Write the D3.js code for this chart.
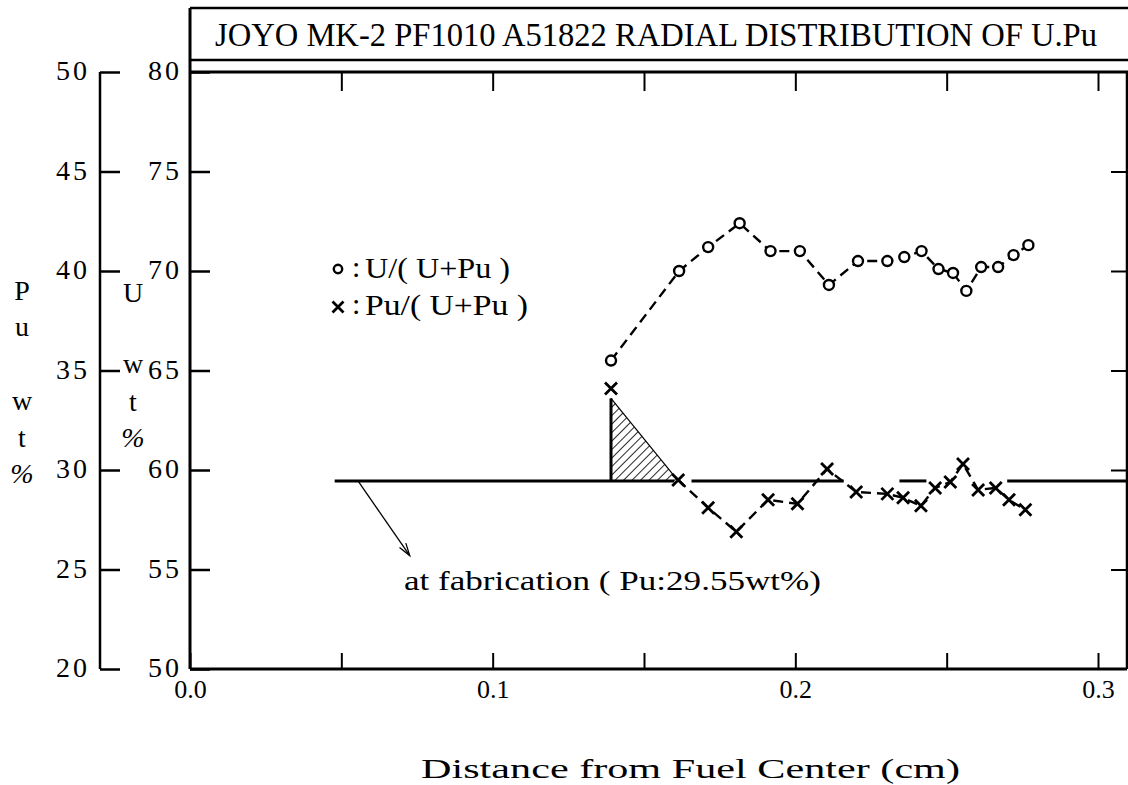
<!DOCTYPE html>
<html>
<head>
<meta charset="utf-8">
<script src="https://cdn.jsdelivr.net/npm/d3@7"></script>
<style>
  body { margin: 0; background: #fff; }
  text { font-family: "Liberation Serif", "DejaVu Serif", serif; fill: #000; }
</style>
</head>
<body>
<svg id="chart" width="1128" height="785"></svg>
<script>
// U/(U+Pu) measurements (circles)
const uDistance = [0.1391, 0.1616, 0.1712, 0.1816, 0.1918, 0.2015, 0.2111, 0.2207, 0.2304,
                   0.2360, 0.2417, 0.2473, 0.2521, 0.2565, 0.2614, 0.2670, 0.2721, 0.2770];
const uPct = [65.5, 70.0, 71.2, 72.4, 71.0, 71.0, 69.3, 70.5, 70.5,
              70.7, 71.0, 70.1, 69.9, 69.0, 70.2, 70.2, 70.8, 71.3];

// Pu/(U+Pu) measurements (crosses)
const puDistance = [0.1391, 0.1613, 0.1712, 0.1805, 0.1910, 0.2007, 0.2105, 0.2201, 0.2304,
                    0.2356, 0.2415, 0.2462, 0.2512, 0.2554, 0.2604, 0.2662, 0.2706, 0.2760];
const puPct = [34.1, 29.5, 28.1, 26.9, 28.5, 28.3, 30.05, 28.9, 28.8,
               28.6, 28.2, 29.1, 29.4, 30.3, 29.0, 29.1, 28.5, 28.0];

// fabrication level and where the drawn line is visible
const fabPu = 29.45;
const fabSegments = [[0.0478, 0.1600], [0.1657, 0.2160], [0.2344, 0.2433], [0.2700, 0.3096]];
const hatchTop = 33.6;

const uTicks = [50, 55, 60, 65, 70, 75, 80];
const puTicks = [20, 25, 30, 35, 40, 45, 50];
const xTicks = [0, 0.05, 0.1, 0.15, 0.2, 0.25, 0.3];
const xLabelTicks = [0, 0.1, 0.2, 0.3];

const title = "JOYO MK-2 PF1010 A51822 RADIAL DISTRIBUTION OF U.Pu";
const xTitle = "Distance from Fuel Center (cm)";
const fabNote = "at fabrication ( Pu:29.55wt%)";
const legendU = "U/( U+Pu )";
const legendPu = "Pu/( U+Pu )";

const svg = d3.select('#chart');

const plotLeft = 190, plotRight = 1127, plotTop = 72, plotBottom = 669;
const x = d3.scaleLinear().domain([0, 0.3]).range([plotLeft, 1098]);
const yU = d3.scaleLinear().domain([50, 80]).range([plotBottom, plotTop]);
const yPu = d3.scaleLinear().domain([20, 50]).range([plotBottom, plotTop]);

// hatch pattern
svg.append('defs').append('pattern')
    .attr('id', 'hatch')
    .attr('patternUnits', 'userSpaceOnUse')
    .attr('width', 6).attr('height', 6)
    .attr('patternTransform', 'rotate(45)')
    .append('line')
    .attr('x1', 0).attr('y1', 0).attr('x2', 0).attr('y2', 6)
    .attr('stroke', '#000').attr('stroke-width', 1.7);

// title box + plot frame
const frame = svg.append('g').attr('stroke', '#000').attr('fill', 'none');
frame.append('line').attr('x1', plotLeft).attr('x2', 1128).attr('y1', 8).attr('y2', 8).attr('stroke-width', 2.5);
frame.append('line').attr('x1', plotLeft).attr('x2', 1128).attr('y1', 60).attr('y2', 60).attr('stroke-width', 2.5);
frame.append('line').attr('x1', plotLeft).attr('x2', 1128).attr('y1', plotTop).attr('y2', plotTop).attr('stroke-width', 3);
frame.append('line').attr('x1', plotLeft).attr('x2', plotLeft).attr('y1', 8).attr('y2', plotBottom).attr('stroke-width', 3);
frame.append('line').attr('x1', plotLeft).attr('x2', plotRight).attr('y1', plotBottom).attr('y2', plotBottom).attr('stroke-width', 3);
frame.append('line').attr('x1', plotRight).attr('x2', plotRight).attr('y1', plotTop).attr('y2', plotBottom).attr('stroke-width', 2.5);

svg.append('text')
    .attr('x', 215).attr('y', 46)
    .attr('font-size', 33)
    .attr('textLength', 882).attr('lengthAdjust', 'spacingAndGlyphs')
    .text(title);

const styleAxis = (g, fontSize) => {
    g.select('.domain').remove();
    g.attr('font-family', null);
    g.selectAll('.tick line').attr('stroke', '#000').attr('stroke-width', 2.5);
    g.selectAll('.tick text').attr('font-size', fontSize).attr('fill', '#000');
};

// U axis (left of plot)
svg.append('g')
    .attr('transform', `translate(${plotLeft},0)`)
    .call(d3.axisLeft(yU).tickValues(uTicks).tickSize(-20).tickPadding(8).tickFormat(d3.format('d')))
    .call(g => styleAxis(g, 28))
    .call(g => g.selectAll('.tick text').attr('letter-spacing', 3).attr('dy', '0.28em'));

// Pu axis (far left)
svg.append('g')
    .attr('transform', 'translate(100,0)')
    .call(d3.axisLeft(yPu).tickValues(puTicks).tickSize(-20).tickPadding(10).tickFormat(d3.format('d')))
    .call(g => styleAxis(g, 28))
    .call(g => g.selectAll('.tick text').attr('letter-spacing', 3).attr('dy', '0.28em'));
svg.append('line')
    .attr('x1', 100).attr('x2', 100).attr('y1', yPu(50)).attr('y2', yPu(20))
    .attr('stroke', '#000').attr('stroke-width', 2.5);

// bottom axis
svg.append('g')
    .attr('transform', `translate(0,${plotBottom})`)
    .call(d3.axisBottom(x).tickValues(xTicks).tickSize(-16).tickPadding(11)
        .tickFormat(d => xLabelTicks.some(v => Math.abs(v - d) < 1e-9) ? d.toFixed(1) : ''))
    .call(g => styleAxis(g, 26))
    .call(g => g.selectAll('.tick line').attr('stroke-width', 2));

// top axis
svg.append('g')
    .attr('transform', `translate(0,${plotTop})`)
    .call(d3.axisTop(x).tickValues(xTicks.slice(1)).tickSize(-19).tickFormat(''))
    .call(g => styleAxis(g, 0))
    .call(g => g.selectAll('.tick line').attr('stroke-width', 2));

// right axis
svg.append('g')
    .attr('transform', `translate(${plotRight},0)`)
    .call(d3.axisRight(yU).tickValues(uTicks.slice(1, -1)).tickSize(-16).tickFormat(''))
    .call(g => styleAxis(g, 0))
    .call(g => g.selectAll('.tick line').attr('stroke-width', 2));

// axis captions
const capPu = ['P', 'u', 'w', 't', '%'];
const capPuY = [300, 336, 410, 447, 483];
svg.append('g').selectAll('text').data(capPu).join('text')
    .attr('x', 22).attr('y', (d, i) => capPuY[i])
    .attr('text-anchor', 'middle').attr('font-size', 28)
    .attr('font-style', d => d === '%' ? 'italic' : null)
    .text(d => d);
const capU = ['U', 'w', 't', '%'];
const capUY = [302, 373, 411, 447];
svg.append('g').selectAll('text').data(capU).join('text')
    .attr('x', 133).attr('y', (d, i) => capUY[i])
    .attr('text-anchor', 'middle').attr('font-size', 28)
    .attr('font-style', d => d === '%' ? 'italic' : null)
    .text(d => d);

svg.append('text')
    .attr('x', 421).attr('y', 778)
    .attr('font-size', 27)
    .attr('textLength', 539).attr('lengthAdjust', 'spacingAndGlyphs')
    .text(xTitle);

// hatched excess area
const hatchPts = [[puDistance[0], fabPu], [puDistance[0], hatchTop], [puDistance[1], fabPu]];
svg.append('path')
    .attr('d', d3.line().x(d => x(d[0])).y(d => yPu(d[1]))(hatchPts) + 'Z')
    .attr('fill', 'url(#hatch)').attr('stroke', 'none');
svg.append('line')
    .attr('x1', x(puDistance[0])).attr('x2', x(puDistance[0]))
    .attr('y1', yPu(fabPu)).attr('y2', yPu(hatchTop))
    .attr('stroke', '#000').attr('stroke-width', 3);
svg.append('path')
    .attr('d', d3.line().x(d => x(d[0])).y(d => yPu(d[1]))(hatchPts.slice(1)))
    .attr('fill', 'none').attr('stroke', '#000').attr('stroke-width', 1.2);

// fabrication reference line
svg.append('g').selectAll('line').data(fabSegments).join('line')
    .attr('x1', d => x(d[0])).attr('x2', d => Math.min(x(d[1]), plotRight))
    .attr('y1', yPu(fabPu)).attr('y2', yPu(fabPu))
    .attr('stroke', '#000').attr('stroke-width', 3);

// annotation arrow
const arrowFrom = [0.0555, fabPu];
const arrowTo = [0.0726, 25.7];
const ax1 = x(arrowFrom[0]), ay1 = yPu(arrowFrom[1]), ax2 = x(arrowTo[0]), ay2 = yPu(arrowTo[1]);
svg.append('line').attr('x1', ax1).attr('y1', ay1).attr('x2', ax2).attr('y2', ay2)
    .attr('stroke', '#000').attr('stroke-width', 1.3);
const ang = Math.atan2(ay2 - ay1, ax2 - ax1);
const head = [ang + Math.PI - 0.3, ang + Math.PI + 0.3].map(a => [ax2 + 13 * Math.cos(a), ay2 + 13 * Math.sin(a)]);
svg.append('path')
    .attr('d', `M${head[0]}L${ax2},${ay2}L${head[1]}`)
    .attr('fill', 'none').attr('stroke', '#000').attr('stroke-width', 1.3);

svg.append('text')
    .attr('x', x(0.0707)).attr('y', yPu(23.95))
    .attr('font-size', 27)
    .attr('textLength', 417).attr('lengthAdjust', 'spacingAndGlyphs')
    .text(fabNote);

// series lines
const dash = '10,6';
const uData = uDistance.map((d, i) => [d, uPct[i]]);
const puData = puDistance.map((d, i) => [d, puPct[i]]);

svg.append('path')
    .attr('d', d3.line().x(d => x(d[0])).y(d => yU(d[1]))(uData))
    .attr('fill', 'none').attr('stroke', '#000').attr('stroke-width', 2.4)
    .attr('stroke-dasharray', dash);
svg.append('path')
    .attr('d', d3.line().x(d => x(d[0])).y(d => yPu(d[1]))(puData.slice(1)))
    .attr('fill', 'none').attr('stroke', '#000').attr('stroke-width', 2.4)
    .attr('stroke-dasharray', dash);

const cross = (s) => `M${-s},${-s}L${s},${s}M${-s},${s}L${s},${-s}`;

svg.append('g').selectAll('circle').data(uData).join('circle')
    .attr('cx', d => x(d[0])).attr('cy', d => yU(d[1])).attr('r', 5)
    .attr('fill', '#fff').attr('stroke', '#000').attr('stroke-width', 2.4);

svg.append('g').selectAll('path').data(puData).join('path')
    .attr('transform', d => `translate(${x(d[0])},${yPu(d[1])})`)
    .attr('d', cross(6))
    .attr('fill', 'none').attr('stroke', '#000').attr('stroke-width', 2.8);

// legend
const legend = svg.append('g');
legend.append('circle').attr('cx', 338).attr('cy', 269).attr('r', 4.2)
    .attr('fill', '#fff').attr('stroke', '#000').attr('stroke-width', 2.4);
legend.append('text').attr('x', 352).attr('y', 277).attr('font-size', 30).text(':');
legend.append('text').attr('x', 365).attr('y', 278).attr('font-size', 30)
    .attr('textLength', 145).attr('lengthAdjust', 'spacingAndGlyphs').text(legendU);
legend.append('path').attr('transform', 'translate(338,307)').attr('d', cross(5.5))
    .attr('fill', 'none').attr('stroke', '#000').attr('stroke-width', 2.8);
legend.append('text').attr('x', 352).attr('y', 314).attr('font-size', 30).text(':');
legend.append('text').attr('x', 365).attr('y', 315).attr('font-size', 30)
    .attr('textLength', 163).attr('lengthAdjust', 'spacingAndGlyphs').text(legendPu);
</script>
</body>
</html>
